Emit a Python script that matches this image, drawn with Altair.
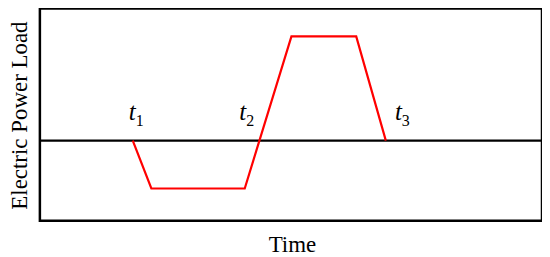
import altair as alt
import pandas as pd

# Load curve (time in arbitrary units, load relative to baseline)
curve_time = [1.85, 2.22, 4.08, 5.01, 6.30, 6.89]
curve_load = [0.0, -1.0, -1.0, 2.18, 2.18, 0.0]

# Time-point labels t1, t2, t3
label_sub = ["1", "2", "3"]
label_time = [1.77, 3.97, 7.07]
label_load = [0.43, 0.43, 0.43]

x_domain = [0, 10]
y_domain = [-1.673, 2.765]

curve_df = pd.DataFrame({"time": curve_time, "load": curve_load, "order": range(len(curve_time))})
label_df = pd.DataFrame({"time": label_time, "load": label_load, "sub": label_sub})
base_df = pd.DataFrame({"load": [0.0]})

FONT = "Liberation Serif"

x_enc = alt.X(
    "time:Q",
    scale=alt.Scale(domain=x_domain, nice=False, zero=False),
    axis=alt.Axis(
        title="Time", domain=False, ticks=False, labels=False, grid=False,
        titleFont=FONT, titleFontSize=23, titleFontWeight="normal", titleColor="black",
        titleX=253, titleY=31, titleBaseline="alphabetic", titleAlign="center",
    ),
)
y_enc = alt.Y(
    "load:Q",
    scale=alt.Scale(domain=y_domain, nice=False, zero=False),
    axis=alt.Axis(
        title="Electric Power Load", domain=False, ticks=False, labels=False, grid=False,
        titleFont=FONT, titleFontSize=23, titleFontWeight="normal", titleColor="black",
        titleX=-13, titleY=107, titleAngle=270, titleBaseline="alphabetic", titleAlign="center",
    ),
)

line = alt.Chart(curve_df).mark_line(color="#ff0000", strokeWidth=2.2).encode(
    x=x_enc, y=y_enc, order="order:Q"
)

baseline = alt.Chart(base_df).mark_rule(color="black", strokeWidth=2.2).encode(
    y=alt.Y("load:Q", scale=alt.Scale(domain=y_domain, nice=False, zero=False))
)

t_text = alt.Chart(label_df).mark_text(
    text="t", font=FONT, fontSize=25, fontStyle="italic", align="left",
    baseline="alphabetic", color="black",
).encode(x="time:Q", y="load:Q")

sub_text = alt.Chart(label_df).mark_text(
    font=FONT, fontSize=16, align="left", baseline="alphabetic", color="black",
    dx=7, dy=6,
).encode(x="time:Q", y="load:Q", text="sub:N")

chart = (
    alt.layer(baseline, line, t_text, sub_text)
    .properties(
        width=504, height=213,
        autosize=alt.AutoSizeParams(type="none"),
        padding={"left": 32, "top": 0, "right": 0, "bottom": 36},
        background="white",
    )
    .configure_view(stroke="black", strokeWidth=2.5)
)

chart.save("out.html", embed_options={"renderer": "svg", "actions": False})
